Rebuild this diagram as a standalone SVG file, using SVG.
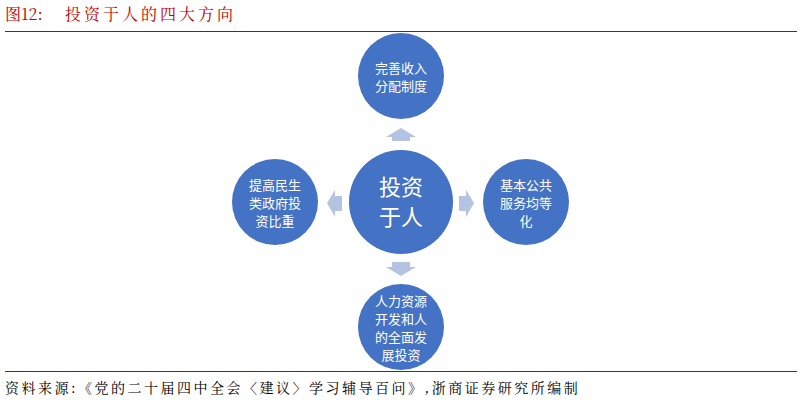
<svg xmlns="http://www.w3.org/2000/svg" width="802" height="403" viewBox="0 0 802 403">
<style>
.c{fill:#4472C4}
.t{font-family:"Noto Sans CJK SC",sans-serif;fill:#fff;font-size:13px;text-anchor:middle}
.big{font-size:22px}
.a{fill:#B4C3E2}
.r{font-family:"Noto Serif CJK SC","Noto Sans CJK SC",serif;fill:#C00000;font-size:16px}
</style>
<rect width="802" height="403" fill="#fff"/>
<text class="r" x="5" y="20">图12:</text>
<text class="r" x="65" y="20" letter-spacing="3">投资于人的四大方向</text>
<line x1="5" y1="31.5" x2="797" y2="31.5" stroke="#C00000" stroke-width="1"/>
<line x1="5" y1="371.5" x2="797" y2="371.5" stroke="#C00000" stroke-width="1"/>
<text x="5" y="393" font-family="Noto Serif CJK SC,Noto Sans CJK SC,serif" font-size="14" letter-spacing="2.5" fill="#000">资料来源:《党的二十届四中全会〈建议〉学习辅导百问》,浙商证券研究所编制</text>
<g id="connectors">
<polygon class="a" points="401,128 416,137 410,137 410,141 392,141 392,137 386,137"/>
<polygon class="a" points="401,276 416,267 410,267 410,262 392,262 392,267 386,267"/>
<polygon class="a" points="327,203 335,190 335,196 342,196 342,211 335,211 335,217"/>
<polygon class="a" points="474,203 466,190 466,196 459,196 459,211 466,211 466,217"/>
</g>
<g id="center"><circle class="c" cx="401" cy="202" r="52"/>
<text class="t big" x="401" y="195">投资</text><text class="t big" x="401" y="225">于人</text></g>
<g id="top"><circle class="c" cx="401" cy="76" r="43"/>
<text class="t" x="401" y="73">完善收入</text><text class="t" x="401" y="91">分配制度</text></g>
<g id="right"><circle class="c" cx="526" cy="202" r="43"/>
<text class="t" x="526" y="190">基本公共</text><text class="t" x="526" y="208">服务均等</text><text class="t" x="526" y="226">化</text></g>
<g id="bottom"><circle class="c" cx="401" cy="327" r="43"/>
<text class="t" x="401" y="306">人力资源</text><text class="t" x="401" y="324">开发和人</text><text class="t" x="401" y="342">的全面发</text><text class="t" x="401" y="360">展投资</text></g>
<g id="left"><circle class="c" cx="275" cy="202" r="43"/>
<text class="t" x="275" y="190">提高民生</text><text class="t" x="275" y="208">类政府投</text><text class="t" x="275" y="226">资比重</text></g>
</svg>
